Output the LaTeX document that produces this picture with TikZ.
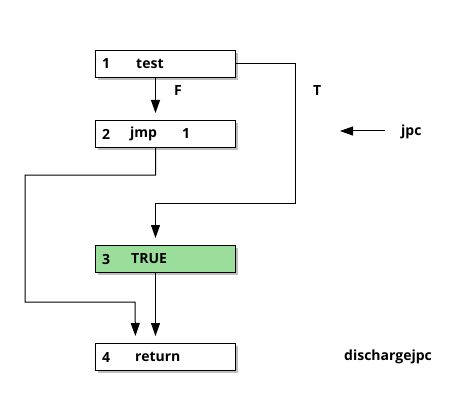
\documentclass[tikz,border=0pt]{standalone}
\usepackage{fontspec}
\setmainfont{Open Sans}
\usetikzlibrary{arrows.meta,shadows}
\begin{document}
\begin{tikzpicture}[x=1pt,y=-1pt,
  blk/.style={draw=black,line width=1pt,minimum width=140pt,minimum height=27pt,anchor=north west,inner sep=0pt,
    drop shadow={shadow xshift=2.5pt,shadow yshift=-2.5pt,fill=black,opacity=0.25}},
  lbl/.style={font=\bfseries\fontsize{14}{16}\selectfont,inner sep=0pt,anchor=west},
  conn/.style={line width=1pt,-{Triangle[width=9pt,length=13pt]},shorten >=7pt},
  pl/.style={line width=1pt}]
\useasboundingbox (0,0) rectangle (470,406);
\node[blk,fill=white] (b1) at (95,50) {};
\node[blk,fill=white] (b2) at (95,120) {};
\node[blk,fill={rgb,255:red,155;green,221;blue,155}] (b3) at (95,245) {};
\node[blk,fill=white] (b4) at (95,343) {};
\node[lbl] (t1a) at (102,64) {1};
\node[lbl] (t1b) at (136,64) {test};
\node[lbl] (t2a) at (102,134) {2};
\node[lbl] (t2b) at (130,134) {jmp};
\node[lbl] (t2c) at (182,134) {1};
\node[lbl] (t3a) at (102,259) {3};
\node[lbl] (t3b) at (131,259) {TRUE};
\node[lbl] (t4a) at (102,357) {4};
\node[lbl] (t4b) at (135,357) {return};
\node[lbl] (F) at (174,91) {F};
\node[lbl] (T) at (313,91) {T};
\node[lbl] (jpc) at (401,132) {jpc};
\node[lbl] (dis) at (344,357) {dischargejpc};
\coordinate (jpcs) at (385,131);
\coordinate (jpce) at (340,131);
\draw[conn] ([xshift=-10pt]b1.south) -- ([xshift=-10pt]b2.north);
\draw[conn] (b1.east) -| (295,203) -| ([xshift=-10pt]b3.north);
\draw[conn] ([xshift=-10pt]b2.south) |- (25,175) |- (135,302) -- ([xshift=-30pt]b4.north);
\draw[conn] ([xshift=-10pt]b3.south) -- ([xshift=-10pt]b4.north);
\draw[line width=1pt,-{Triangle[width=9pt,length=13pt]}] (jpcs) -- (jpce);
\end{tikzpicture}
\end{document}
